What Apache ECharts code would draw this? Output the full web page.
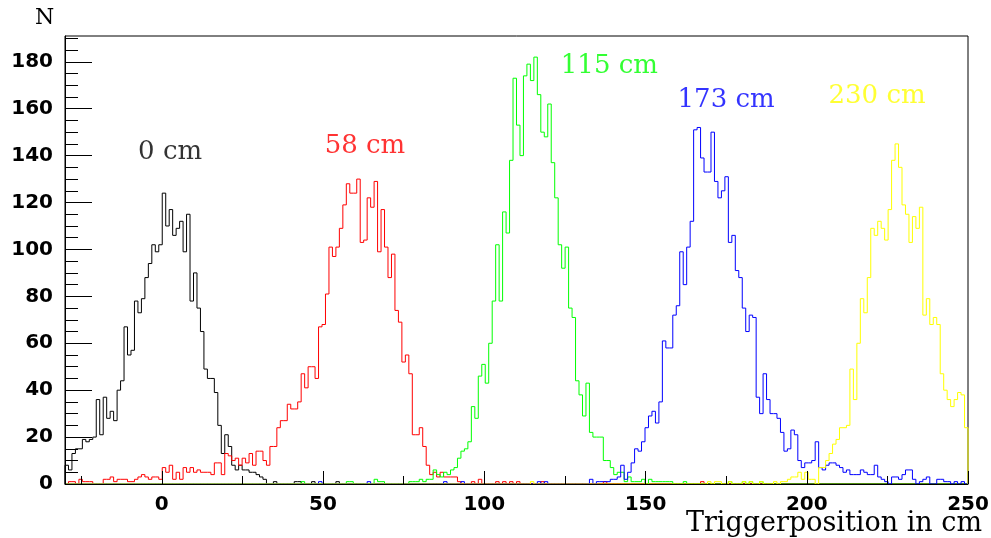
<!DOCTYPE html>
<html>
<head>
<meta charset="utf-8">
<script src="https://cdn.jsdelivr.net/npm/echarts@6/dist/echarts.min.js"></script>
<style>
html,body{margin:0;padding:0;background:#fff;}
#chart{width:991px;height:538px;}
</style>
</head>
<body>
<div id="chart"></div>
<script>
// Histogram binning (cm)
const binLow = -30;
const binHigh = 250;

// Counts per bin (260 bins)
const blackCounts = [
8,6,13,15,15,19,18,19,20,36,21,37,28,31,27,40,44,67,55,57,
78,73,79,88,94,102,99,102,124,110,117,106,109,112,99,115,78,90,75,65,
49,45,45,39,25,13,21,16,8,6,8,6,6,5,5,4,3,2,0,0,
1,0,0,0,0,0,1,1,0,0,0,1,0,0,0,0,0,0,1,0,
0,0,0,0,0,0,0,0,0,0,0,0,0,0,0,0,0,0,0,0,
0,0,0,0,0,0,0,0,0,0,0,0,0,0,0,0,0,0,0,0,
0,0,0,0,0,0,0,0,0,0,0,0,0,0,0,0,0,0,0,0,
0,0,0,0,0,0,0,0,0,0,0,0,0,0,0,0,0,0,0,0,
0,0,0,0,0,0,0,0,0,0,0,0,0,0,0,0,0,0,0,0,
0,0,0,0,0,0,0,0,0,0,0,0,0,0,0,0,0,0,0,0,
0,0,0,0,0,0,0,0,0,0,0,0,0,0,0,0,0,0,0,0,
0,0,0,0,0,0,0,0,0,0,0,0,0,0,0,0,0,0,0,0,
0,0,0,0,0,0,0,0,0,0,0,0,0,0,0,0,0,0,0,0
];
const redCounts = [
0,1,1,0,2,1,1,1,0,0,0,2,2,3,1,2,2,2,1,1,
2,3,4,3,2,3,3,2,7,5,8,2,5,2,7,5,7,5,6,5,
5,5,4,9,9,4,13,12,10,11,8,11,9,13,8,14,14,10,8,16,
16,24,27,27,34,32,32,35,47,41,50,50,45,67,68,81,101,97,101,109,
119,128,124,124,130,103,104,122,118,129,99,117,101,88,98,74,69,52,55,47,
21,21,24,16,8,4,5,3,5,3,3,3,3,1,0,0,0,1,0,2,
0,0,0,0,1,0,1,0,1,0,1,0,0,0,0,0,0,1,0,0,
0,0,0,0,0,0,0,0,0,0,0,0,0,0,0,1,0,0,0,0,
0,0,0,0,0,0,0,0,0,0,0,0,0,0,0,0,0,0,0,0,
0,0,0,1,0,0,0,0,0,0,0,0,0,0,0,0,0,0,0,0,
0,0,0,0,0,0,0,0,0,0,0,0,0,0,0,0,0,0,0,0,
0,0,0,0,0,0,0,0,0,0,0,0,0,0,0,0,0,0,0,0,
0,0,0,0,0,0,0,0,0,0,0,0,0,0,0,0,0,0,0,0
];
const greenCounts = [
0,0,0,0,0,0,0,0,0,0,0,0,0,0,0,0,0,0,0,0,
0,0,0,0,0,0,0,0,0,0,0,0,0,0,0,0,0,0,0,0,
0,0,0,0,0,0,0,0,0,0,0,0,0,0,0,0,0,0,0,0,
0,0,0,0,0,0,0,0,1,0,0,0,0,0,0,0,0,0,0,0,
0,1,1,0,0,0,0,0,0,2,1,1,0,0,0,0,0,0,0,1,
1,1,2,1,2,2,6,4,3,5,4,6,7,11,14,15,18,33,28,46,
51,43,60,78,102,78,116,107,138,173,153,140,174,179,172,182,166,150,148,162,
137,122,102,92,101,75,71,44,38,29,43,22,20,20,20,10,10,7,4,5,
5,1,3,1,1,1,2,0,2,1,1,1,1,1,1,0,0,0,1,0,
0,0,0,0,0,0,0,0,0,0,0,1,0,0,0,1,0,1,0,0,
1,0,0,0,0,0,0,0,0,0,0,0,0,0,0,0,0,0,0,0,
0,0,0,0,0,0,0,0,0,0,0,0,0,0,0,0,0,0,0,0,
0,0,0,0,0,0,0,0,0,0,0,0,0,0,0,0,0,0,0,0
];
const blueCounts = [
0,0,0,0,0,0,0,0,0,0,0,0,0,0,0,0,0,0,0,0,
0,0,0,0,0,0,0,0,0,0,0,0,0,0,0,0,0,0,0,0,
0,0,0,0,0,0,0,0,0,0,0,0,0,0,0,0,0,0,0,0,
0,0,0,0,0,0,0,0,0,0,0,0,0,1,0,0,0,0,0,0,
0,0,0,0,0,0,0,1,0,0,0,0,0,0,0,0,0,0,0,0,
0,0,0,0,0,0,0,0,0,1,0,0,0,0,1,0,0,0,0,0,
0,0,0,0,0,0,0,0,0,0,0,0,0,0,0,0,1,0,1,0,
0,0,0,0,0,0,0,0,0,0,0,2,0,1,1,1,1,2,2,3,
8,2,5,9,15,14,18,24,29,31,26,35,61,58,58,72,76,99,85,101,
112,151,152,139,133,133,150,129,122,125,131,103,106,91,88,75,65,72,71,37,
30,47,36,30,30,28,22,14,15,23,21,10,7,9,9,10,18,7,6,8,
9,9,8,7,5,6,4,4,4,6,5,4,4,8,3,2,1,0,3,3,
2,4,6,6,2,0,1,2,3,0,0,2,2,1,1,0,1,0,1,0
];
const yellowCounts = [
0,0,0,0,0,0,0,0,0,0,0,0,0,0,0,0,0,0,0,0,
0,0,0,0,0,0,0,0,0,0,0,0,0,0,0,0,0,0,0,0,
0,0,0,0,0,0,0,0,0,0,0,0,0,0,0,0,0,0,0,0,
0,0,0,0,0,0,0,0,0,0,0,0,0,0,0,0,0,0,0,0,
0,0,0,0,0,0,0,0,0,0,0,0,0,0,0,0,0,0,0,0,
0,0,0,0,0,0,0,0,0,0,0,0,0,0,0,0,0,0,0,0,
0,0,0,0,0,0,0,0,0,0,0,0,0,0,1,0,0,0,0,0,
0,0,0,0,0,0,0,0,0,0,0,0,0,0,0,0,0,0,0,0,
0,0,0,0,0,0,0,0,0,0,0,0,0,0,0,0,0,0,0,0,
0,0,0,0,0,1,0,1,1,0,0,1,0,0,0,1,0,1,0,0,
1,0,0,0,1,0,1,1,2,3,3,5,2,5,2,2,0,7,7,10,
13,17,19,24,24,25,49,36,60,79,73,88,109,106,112,109,104,117,138,145,
135,119,115,103,114,109,118,72,79,68,71,68,47,40,36,33,36,39,38,24
];

const seriesNames = ['0 cm', '58 cm', '115 cm', '173 cm', '230 cm'];
const seriesColors = ['#000000', '#ff0000', '#00ff00', '#0000ff', '#ffff00'];

// Tick values
const xMajorTicks = [0, 50, 100, 150, 200, 250];
const xMinorTicks = [-25, 25, 75, 125, 175, 225];
const yMajorTicks = [0, 20, 40, 60, 80, 100, 120, 140, 160, 180];
const yMinorTicks = [5, 10, 15, 25, 30, 35, 45, 50, 55, 65, 70, 75, 85, 90, 95, 105, 110, 115,
  125, 130, 135, 145, 150, 155, 165, 170, 175, 185, 190];

// Annotation anchors (data coordinates)
const labelX = [2.6, 63.0, 138.8, 175.0, 221.8];
const labelY = [141.6, 144.2, 178.3, 163.4, 165.5];

function stepData(counts) {
  const w = (binHigh - binLow) / counts.length;
  const pts = [[binLow, 0]];
  for (let i = 0; i < counts.length; i++) pts.push([binLow + i * w, counts[i]]);
  pts.push([binHigh, counts[counts.length - 1]]);
  pts.push([binHigh, 0]);
  return pts;
}

const allCounts = [blackCounts, redCounts, greenCounts, blueCounts, yellowCounts];

const chart = echarts.init(document.getElementById('chart'), null, {renderer: 'canvas'});

const tickFont = {fontFamily: 'DejaVu Sans', fontWeight: 'bold', fontSize: 20, color: '#000'};

const series = allCounts.map((c, k) => ({
  type: 'line',
  name: seriesNames[k],
  xAxisIndex: 0,
  yAxisIndex: 0,
  data: stepData(c),
  step: 'end',
  showSymbol: false,
  symbol: 'none',
  lineStyle: {color: seriesColors[k], width: 1},
  itemStyle: {color: seriesColors[k]},
  z: 2,
  silent: true
}));

series.push({
  type: 'scatter',
  name: 'labels',
  xAxisIndex: 0,
  yAxisIndex: 0,
  symbolSize: 0,
  silent: true,
  z: 5,
  data: seriesNames.map((n, k) => ({
    name: n,
    value: [labelX[k], labelY[k]],
    label: {color: seriesColors[k]}
  })),
  label: {
    show: true,
    position: 'inside',
    formatter: p => p.name,
    fontFamily: 'DejaVu Serif',
    fontSize: 26
  }
});

chart.setOption({
  animation: false,
  backgroundColor: '#fff',
  grid: {
    left: 65, right: 23, top: 36, bottom: 54,
    show: true, borderColor: '#000', borderWidth: 1,
    containLabel: false, outerBoundsMode: 'none'
  },
  xAxis: [
    {
      type: 'value', min: binLow, max: binHigh, position: 'bottom', z: 3,
      axisLine: {show: true, onZero: false, lineStyle: {color: '#000', width: 1}},
      axisTick: {show: true, inside: true, length: 13, customValues: xMajorTicks, lineStyle: {color: '#000'}},
      axisLabel: Object.assign({show: true, margin: 11, customValues: xMajorTicks}, tickFont),
      splitLine: {show: false}
    },
    {
      type: 'value', min: binLow, max: binHigh, position: 'bottom', offset: 0, z: 3,
      axisLine: {show: false, onZero: false},
      axisTick: {show: true, inside: true, length: 8, customValues: xMinorTicks, lineStyle: {color: '#000'}},
      axisLabel: {show: false},
      splitLine: {show: false}
    }
  ],
  yAxis: [
    {
      type: 'value', min: 0, max: 191, position: 'left', z: 3,
      axisLine: {show: true, onZero: false, lineStyle: {color: '#000', width: 1}},
      axisTick: {show: true, inside: true, length: 27, customValues: yMajorTicks, lineStyle: {color: '#000'}},
      axisLabel: Object.assign({show: true, margin: 12, customValues: yMajorTicks}, tickFont),
      splitLine: {show: false}
    },
    {
      type: 'value', min: 0, max: 191, position: 'left', offset: 0, z: 3,
      axisLine: {show: false, onZero: false},
      axisTick: {show: true, inside: true, length: 13, customValues: yMinorTicks, lineStyle: {color: '#000'}},
      axisLabel: {show: false},
      splitLine: {show: false}
    }
  ],
  graphic: [
    {
      type: 'text', left: 35, top: 7,
      style: {text: 'N', fontFamily: 'DejaVu Serif', fontSize: 22, fill: '#000'}
    },
    {
      type: 'text', right: 9, top: 510,
      style: {text: 'Triggerposition in cm', fontFamily: 'DejaVu Serif', fontSize: 27, fill: '#000'}
    }
  ],
  series: series
});
</script>
</body>
</html>
